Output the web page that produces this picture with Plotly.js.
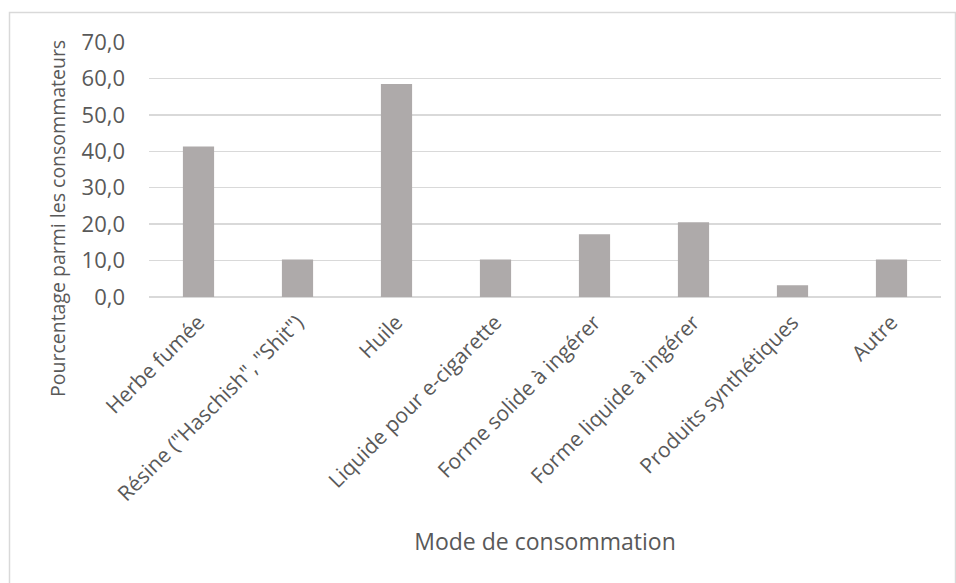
<!DOCTYPE html>
<html>
<head>
<meta charset="utf-8">
<script src="https://cdn.plot.ly/plotly-3.0.1.min.js"></script>
<style>html,body{margin:0;padding:0;background:#fff;}#chart{width:956px;height:583px;}</style>
</head>
<body>
<div id="chart"></div>
<script>
const categories = [
  "Herbe fumée",
  "Résine (\"Haschish\", \"Shit\")",
  "Huile",
  "Liquide pour e-cigarette",
  "Forme solide à ingérer",
  "Forme liquide à ingérer",
  "Produits synthétiques",
  "Autre"
];
const values = [41.3, 10.3, 58.5, 10.3, 17.2, 20.5, 3.2, 10.3];
const yTickValues = [0, 10, 20, 30, 40, 50, 60, 70];
const yTickLabels = ["0,0", "10,0", "20,0", "30,0", "40,0", "50,0", "60,0", "70,0"];
const xTitle = "Mode de consommation";
const yTitle = "Pourcentage parmi les consommateurs";

const font = "Open Sans, Liberation Sans, sans-serif";
const W = 956, H = 583;
const L = 149, R = 15, T = 42, B = 286;
const pw = W - L - R, ph = H - T - B;
const px = v => (v - L) / pw;
const py = v => (H - B - v) / ph;

const trace = {
  type: "bar",
  x: categories,
  y: values,
  marker: {color: "#aeaaaa"},
  hoverinfo: "x+y"
};

const layout = {
  width: W, height: H,
  margin: {l: L, r: R, t: T, b: B},
  paper_bgcolor: "#ffffff",
  plot_bgcolor: "#ffffff",
  showlegend: false,
  bargap: 0.685,
  font: {family: font, color: "#595959"},
  xaxis: {
    type: "category",
    tickangle: -45,
    tickfont: {size: 21, color: "#595959", family: font},
    ticklabelstandoff: 8,
    showgrid: false,
    showline: false,
    ticks: "",
    automargin: false,
    title: {text: xTitle, font: {size: 23, color: "#595959", family: font}, standoff: 28}
  },
  yaxis: {
    range: [0, 70],
    tickvals: yTickValues,
    ticktext: yTickLabels,
    tickfont: {size: 22, color: "#595959", family: font},
    ticklabelstandoff: 23,
    showgrid: true,
    gridcolor: "#d9d9d9",
    gridwidth: 1.5,
    zeroline: true,
    zerolinecolor: "#d9d9d9",
    zerolinewidth: 1.5,
    showline: false,
    ticks: "",
    ticklen: 0,
    automargin: false
  },
  annotations: [{
    text: yTitle,
    xref: "paper", yref: "paper",
    x: px(57), y: py(219),
    xanchor: "center", yanchor: "middle",
    textangle: -90,
    showarrow: false,
    font: {size: 19.5, color: "#595959", family: font}
  }],
  shapes: [{
    type: "rect", xref: "paper", yref: "paper",
    x0: px(9.5), x1: px(955.5), y0: py(600), y1: py(12.5),
    line: {color: "#d9d9d9", width: 1.5},
    fillcolor: "rgba(0,0,0,0)",
    layer: "below"
  }]
};

Plotly.newPlot("chart", [trace], layout, {displayModeBar: false, staticPlot: true});
</script>
</body>
</html>
